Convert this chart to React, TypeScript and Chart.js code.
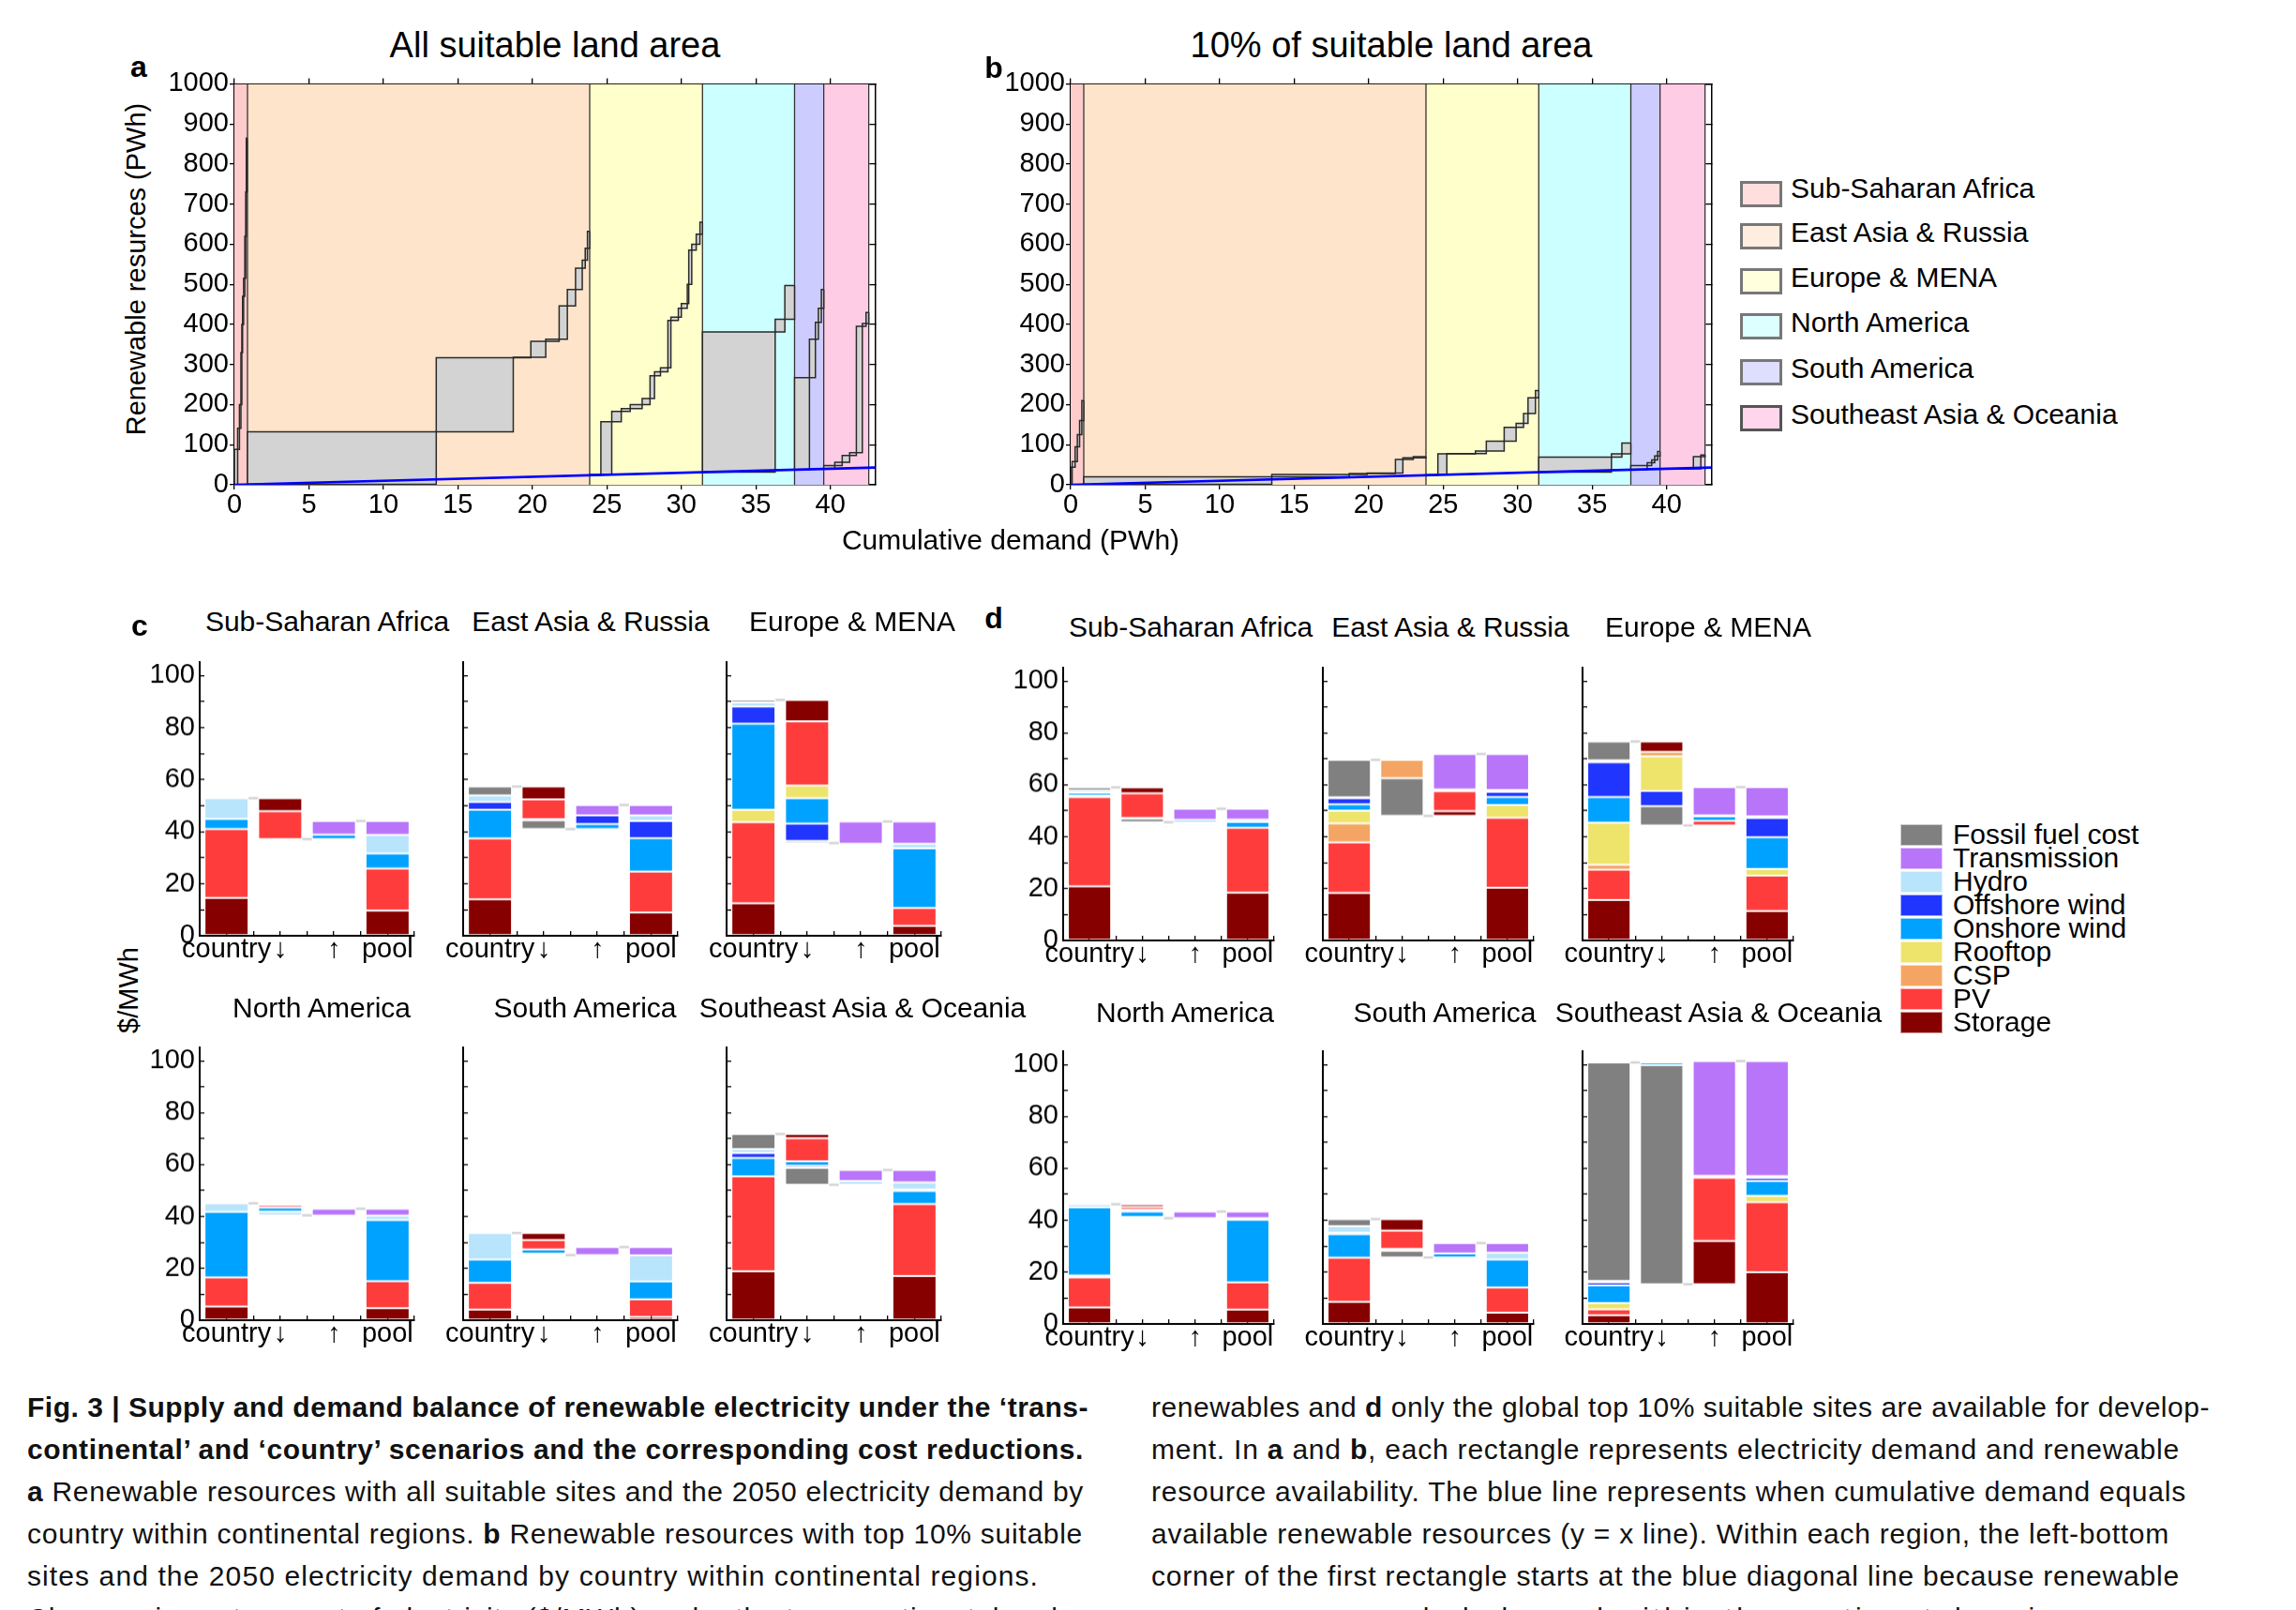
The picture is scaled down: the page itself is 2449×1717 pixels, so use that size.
import React, { useEffect, useLayoutEffect, useRef } from 'react';
import { Chart, registerables } from 'chart.js';

Chart.register(...registerables);

const FONT = '"Liberation Sans", Arial, Helvetica, sans-serif';
Chart.defaults.font.family = FONT;

/* ============ panels a & b : renewable resources vs cumulative demand ============ */
const REGIONS = ['Sub-Saharan Africa', 'East Asia & Russia', 'Europe & MENA', 'North America', 'South America', 'Southeast Asia & Oceania'];
const REGION_FILL = ['#ffcccc', '#fde4ca', '#ffffcc', '#ccffff', '#ccccff', '#ffcce6'];
const REGION_LEGEND_FILL = ['#ffdede', '#ffeedf', '#ffffde', '#deffff', '#dedeff', '#ffd6eb'];
const REGION_EDGES = [0, 0.88, 23.85, 31.42, 37.6, 39.56, 42.58]; // cumulative demand (PWh)
const AB_X_MAX = 43;
const AB_Y_MAX = 1000;

// cumulative [demand PWh, renewable resources PWh] corner points, per region — all suitable land
const A_SSA = [[0, 0], [0.22, 88], [0.34, 141], [0.44, 200], [0.5, 330], [0.55, 400], [0.62, 470], [0.7, 515], [0.76, 620], [0.8, 730], [0.86, 865]];
const A_EAR = [[0.88, 0.88], [13.55, 132], [18.72, 317], [19.9, 318], [20.9, 358], [21.8, 363], [22.35, 446], [22.9, 487], [23.35, 540], [23.55, 560], [23.7, 590], [23.85, 632]];
const A_EUM = [[23.85, 23.85], [24.6, 26], [25.33, 157], [25.97, 183], [26.57, 190], [27.37, 200], [27.9, 215], [28.2, 272], [28.6, 282], [29.1, 292], [29.3, 410], [29.8, 418], [30.0, 440], [30.4, 452], [30.5, 500], [30.7, 585], [31.0, 600], [31.25, 625], [31.42, 655]];
const A_NA = [[31.42, 31.42], [36.3, 381], [36.95, 413], [37.6, 497]];
const A_SA = [[37.6, 37.6], [38.6, 267], [39.0, 363], [39.2, 405], [39.4, 440], [39.56, 487]];
const A_SEA = [[39.56, 39.56], [40.3, 48], [40.8, 56], [41.3, 73], [41.75, 80], [42.15, 395], [42.4, 402], [42.58, 430]];

// top 10% suitable land
const B_SSA = [[0, 0], [0.1, 44], [0.3, 58], [0.45, 95], [0.6, 125], [0.75, 160], [0.88, 210]];
const B_EAR = [[0.88, 0.88], [13.5, 20], [18.7, 26], [19.9, 28], [21.8, 29], [22.3, 63], [23.0, 67], [23.85, 70]];
const B_EUM = [[23.85, 23.85], [24.65, 25], [25.25, 77], [27.17, 78], [27.9, 84], [29.1, 109], [29.9, 143], [30.4, 153], [30.7, 178], [31.2, 217], [31.42, 235]];
const B_NA = [[31.42, 31.42], [36.3, 69], [37.0, 77], [37.6, 104]];
const B_SA = [[37.6, 37.6], [38.7, 48], [39.0, 55], [39.2, 62], [39.4, 72], [39.56, 83]];
const B_SEA = [[39.56, 39.56], [41.8, 40], [42.3, 70], [42.58, 74]];

/* ============ panels c & d : cost of electricity ($/MWh) ============ */
const ST = 0, PV = 1, CSP = 2, RT = 3, ON = 4, OF = 5, HY = 6, TR = 7, FF = 8;
const COMP_NAMES = ['Storage', 'PV', 'CSP', 'Rooftop', 'Onshore wind', 'Offshore wind', 'Hydro', 'Transmission', 'Fossil fuel cost'];
const COMP_COLORS = ['#870000', '#ff3c3c', '#f4a563', '#eee46c', '#00a2ff', '#2036ff', '#b8e4fc', '#b875fa', '#808080'];
const BAR_LABELS = ['country', '↓', '↑', 'pool'];

type Seg = [number, number, number]; // [component, from, to]

// c: transcontinental scenario, all suitable sites — bars: country, decrease, increase, pool
const C_SSA: Seg[][] = [
  [[ST, 0, 14.5], [PV, 14.5, 41], [ON, 41, 44.9], [HY, 44.9, 52.8]],
  [[PV, 37.1, 47.9], [ST, 47.9, 52.8]],
  [[ON, 37.1, 38.8], [TR, 38.8, 44.1]],
  [[ST, 0, 9.6], [PV, 9.6, 25.8], [ON, 25.8, 31.6], [HY, 31.6, 38.7], [TR, 38.7, 44.1]],
];
const C_EAR: Seg[][] = [
  [[ST, 0, 14], [PV, 14, 37.4], [ON, 37.4, 48.4], [OF, 48.4, 51.4], [HY, 51.4, 53.9], [FF, 53.9, 57.3]],
  [[FF, 41, 44.3], [HY, 44.3, 44.8], [PV, 44.8, 52.4], [ST, 52.4, 57.3]],
  [[ON, 41, 42.9], [OF, 42.9, 46.2], [TR, 46.2, 50.2]],
  [[ST, 0, 8.9], [PV, 8.9, 24.6], [ON, 24.6, 37.5], [OF, 37.5, 44.1], [HY, 44.1, 46.2], [TR, 46.2, 50.2]],
];
const C_EUM: Seg[][] = [
  [[ST, 0, 12.4], [PV, 12.4, 43.6], [RT, 43.6, 48.4], [ON, 48.4, 81.5], [OF, 81.5, 88.1], [HY, 88.1, 89.6], [FF, 89.6, 90.6]],
  [[FF, 35.6, 36.4], [OF, 36.4, 43.1], [ON, 43.1, 52.8], [RT, 52.8, 57.7], [PV, 57.7, 82.4], [ST, 82.4, 90.6]],
  [[TR, 35.3, 43.9]],
  [[ST, 0, 3.8], [PV, 3.8, 10.6], [ON, 10.6, 33.6], [HY, 33.6, 35.3], [TR, 35.3, 43.9]],
];
const C_NA: Seg[][] = [
  [[ST, 0, 5.2], [PV, 5.2, 16.5], [ON, 16.5, 41.8], [HY, 41.8, 45]],
  [[HY, 40.4, 41.9], [ON, 41.9, 43.4], [PV, 43.4, 44.4], [ST, 44.4, 45]],
  [[TR, 40.3, 42.9]],
  [[ST, 0, 4.6], [PV, 4.6, 15], [ON, 15, 38.6], [HY, 38.6, 40.3], [TR, 40.3, 42.9]],
];
const C_SA: Seg[][] = [
  [[ST, 0, 4], [PV, 4, 14.4], [ON, 14.4, 23.4], [HY, 23.4, 33.6]],
  [[HY, 25.1, 25.6], [ON, 25.6, 27.3], [PV, 27.3, 30.9], [ST, 30.9, 33.6]],
  [[TR, 25.1, 28.2]],
  [[ST, 0, 1.2], [PV, 1.2, 8], [ON, 8, 14.9], [HY, 14.9, 25], [TR, 25, 28.2]],
];
const C_SEA: Seg[][] = [
  [[ST, 0, 18.8], [PV, 18.8, 55.5], [ON, 55.5, 62.5], [OF, 62.5, 64.4], [HY, 64.4, 66], [FF, 66, 71.8]],
  [[FF, 52.2, 58.7], [OF, 58.7, 59.5], [ON, 59.5, 61.3], [PV, 61.3, 70.1], [ST, 70.1, 71.8]],
  [[HY, 52.2, 53.6], [TR, 53.6, 57.9]],
  [[ST, 0, 17], [PV, 17, 44.8], [ON, 44.8, 49.8], [OF, 49.8, 50.4], [HY, 50.4, 53.1], [TR, 53.1, 57.9]],
];

// d: top 10% suitable sites
const D_SSA: Seg[][] = [
  [[ST, 0, 20.8], [PV, 20.8, 55.3], [CSP, 55.3, 55.8], [ON, 55.8, 56.9], [HY, 56.9, 57.8], [FF, 57.8, 59]],
  [[FF, 45.6, 46.9], [CSP, 46.9, 47.2], [PV, 47.2, 56.7], [ST, 56.7, 59]],
  [[ON, 45.6, 46.5], [TR, 46.5, 50.7]],
  [[ST, 0, 18.4], [PV, 18.4, 43.4], [ON, 43.4, 45.7], [HY, 45.7, 46.6], [TR, 46.6, 50.7]],
];
const D_EAR: Seg[][] = [
  [[ST, 0, 18.3], [PV, 18.3, 37.8], [CSP, 37.8, 45.1], [RT, 45.1, 50], [ON, 50, 52.5], [OF, 52.5, 54.8], [HY, 54.8, 55.2], [FF, 55.2, 69.6]],
  [[FF, 48, 62.5], [CSP, 62.5, 69.6]],
  [[ST, 48, 49.8], [PV, 49.8, 57.5], [ON, 57.5, 58.2], [TR, 58.2, 71.9]],
  [[ST, 0, 20.3], [PV, 20.3, 47.3], [RT, 47.3, 52.2], [ON, 52.2, 55.3], [OF, 55.3, 57.3], [HY, 57.3, 58], [TR, 58, 71.9]],
];
const D_EUM: Seg[][] = [
  [[ST, 0, 15.6], [PV, 15.6, 27.3], [CSP, 27.3, 29.2], [RT, 29.2, 45.4], [ON, 45.4, 55.3], [OF, 55.3, 68.7], [HY, 68.7, 69.4], [FF, 69.4, 76.7]],
  [[FF, 44.3, 51.7], [OF, 51.7, 57.6], [RT, 57.6, 71], [CSP, 71, 72.7], [ST, 72.7, 76.7]],
  [[PV, 44.3, 46.1], [ON, 46.1, 47.8], [HY, 47.8, 48.2], [TR, 48.2, 59.1]],
  [[ST, 0, 11.3], [PV, 11.3, 25], [RT, 25, 27.5], [ON, 27.5, 39.8], [OF, 39.8, 47.2], [HY, 47.2, 47.8], [TR, 47.8, 59.1]],
];
const D_NA: Seg[][] = [
  [[ST, 0, 6.3], [PV, 6.3, 17.9], [RT, 17.9, 18.6], [ON, 18.6, 44.9], [HY, 44.9, 46.1]],
  [[OF, 40.8, 41.2], [ON, 41.2, 43.3], [RT, 43.3, 44], [PV, 44, 45.1], [ST, 45.1, 46.1]],
  [[TR, 40.8, 43.3]],
  [[ST, 0, 5.5], [PV, 5.5, 16], [ON, 16, 40.1], [HY, 40.1, 40.8], [TR, 40.8, 43.3]],
];
const D_SA: Seg[][] = [
  [[ST, 0, 8.5], [PV, 8.5, 25.5], [ON, 25.5, 34.6], [OF, 34.6, 35.1], [HY, 35.1, 37.7], [FF, 37.7, 40.4]],
  [[FF, 25.6, 28.2], [OF, 28.2, 28.9], [PV, 28.9, 36], [ST, 36, 40.4]],
  [[ON, 25.6, 27.2], [TR, 27.2, 31.2]],
  [[ST, 0, 4.3], [PV, 4.3, 14], [ON, 14, 24.8], [HY, 24.8, 27.4], [TR, 27.4, 31.2]],
];
const D_SEA: Seg[][] = [
  [[ST, 0, 3.3], [PV, 3.3, 5.6], [RT, 5.6, 8], [ON, 8, 14.8], [OF, 14.8, 16], [HY, 16, 16.6], [FF, 16.6, 100.8]],
  [[FF, 15.3, 99.8], [ON, 99.8, 100.8]],
  [[ST, 15.3, 32], [PV, 32, 56.4], [RT, 56.4, 57.1], [TR, 57.1, 101.3]],
  [[ST, 0, 19.9], [PV, 19.9, 46.9], [RT, 46.9, 49.4], [ON, 49.4, 55.1], [OF, 55.1, 56.3], [HY, 56.3, 57], [TR, 57, 101.3]],
];

const BAR_Y_MAX = 105;
const X_STEP = 0.5;     // tick spacing on the bar index axis
const BAR_W = 0.82;     // bar width in index units

/* ============ layout ============ */
const AB_GEOM = { top: 89, bottom: 517, unit: 15.89 };
const A_LEFT = 250;
const B_LEFT = 1142;

const TICK_FONT = { family: FONT, size: 29 };

function StepPanel({ plotLeft, regions }: { plotLeft: number; regions: number[][][] }) {
  const ref = useRef<HTMLCanvasElement>(null);
  const yW = 75, xH = 45, topH = 18, rightW = 12;
  const plotW = AB_X_MAX * AB_GEOM.unit;
  const left = plotLeft - yW;
  const top = AB_GEOM.top - topH;
  const width = yW + plotW + rightW;
  const height = topH + (AB_GEOM.bottom - AB_GEOM.top) + xH;

  useEffect(() => {
    const datasets: any[] = [];
    REGIONS.forEach((_, i) => {
      datasets.push({
        type: 'line',
        data: [{ x: REGION_EDGES[i], y: AB_Y_MAX }, { x: REGION_EDGES[i + 1], y: AB_Y_MAX }],
        fill: 'origin', backgroundColor: REGION_FILL[i], borderWidth: 0, pointRadius: 0, order: 30,
      });
    });
    const edgePts: any[] = [];
    REGION_EDGES.slice(1).forEach((e) => {
      edgePts.push({ x: e, y: 0 }, { x: e, y: AB_Y_MAX }, { x: e, y: null });
    });
    datasets.push({ type: 'line', data: edgePts, borderColor: '#333', borderWidth: 1.3, pointRadius: 0, fill: false, spanGaps: false, order: 20 });
    regions.forEach((pts) => {
      const d = pts.map(([x, y]) => ({ x, y }));
      datasets.push({ type: 'line', data: d, stepped: 'after', borderColor: '#2a2a2a', borderWidth: 1.5, pointRadius: 0, fill: false, order: 10 });
      datasets.push({ type: 'line', data: d, stepped: 'before', borderColor: '#2a2a2a', borderWidth: 1.5, pointRadius: 0, fill: '-1', backgroundColor: '#d3d3d3', order: 10 });
    });
    datasets.push({ type: 'line', data: [{ x: 0, y: 0 }, { x: AB_X_MAX, y: AB_X_MAX }], borderColor: '#0000ff', borderWidth: 2.6, pointRadius: 0, fill: false, order: 0 });

    const axisCommon = { color: '#000', width: 1.5 };
    const chart = new Chart(ref.current!, {
      type: 'line',
      data: { datasets },
      options: {
        animation: false,
        responsive: true,
        maintainAspectRatio: false,
        events: [],
        layout: { padding: 0 },
        plugins: { legend: { display: false }, tooltip: { enabled: false }, title: { display: false } },
        scales: {
          x: {
            type: 'linear', position: 'bottom', min: 0, max: AB_X_MAX,
            ticks: { stepSize: 5, includeBounds: false, autoSkip: false, maxRotation: 0, padding: 0, font: TICK_FONT, color: '#000', callback: (v: any) => String(v) },
            grid: { drawOnChartArea: false, tickLength: 5, color: '#000', lineWidth: 1.3 },
            border: axisCommon,
            afterFit: (s: any) => { s.height = xH; },
          },
          xTop: {
            type: 'linear', position: 'top', min: 0, max: AB_X_MAX,
            ticks: { display: false, stepSize: 5, includeBounds: false },
            grid: { drawOnChartArea: false, tickLength: 6, color: '#000', lineWidth: 1.3 },
            border: axisCommon,
            afterFit: (s: any) => { s.height = topH; },
          },
          y: {
            type: 'linear', position: 'left', min: 0, max: AB_Y_MAX,
            ticks: { stepSize: 100, autoSkip: false, padding: 1, font: TICK_FONT, color: '#000', callback: (v: any) => String(v) },
            grid: { drawOnChartArea: false, tickLength: 5, color: '#000', lineWidth: 1.3 },
            border: axisCommon,
            afterFit: (s: any) => { s.width = yW; },
          },
          yRight: {
            type: 'linear', position: 'right', min: 0, max: AB_Y_MAX,
            ticks: { display: false, stepSize: 100 },
            grid: { drawOnChartArea: false, tickLength: -6, color: '#000', lineWidth: 1.3 },
            border: axisCommon,
            afterFit: (s: any) => { s.width = rightW; },
          },
        },
      } as any,
    });
    return () => chart.destroy();
  }, []);

  return (
    <div style={{ position: 'absolute', left, top, width, height }}>
      <canvas ref={ref} />
    </div>
  );
}

function BarPanel({ bars, axisX, plotW, y100, y0, showY }: { bars: Seg[][]; axisX: number; plotW: number; y100: number; y0: number; showY: boolean }) {
  const ref = useRef<HTMLCanvasElement>(null);
  const p = (y0 - y100) / 100;
  const yW = 60, xH = 40, padT = 4, padR = 4;
  const plotH = BAR_Y_MAX * p;
  const left = axisX - yW;
  const top = y0 - plotH - padT;
  const width = yW + plotW + padR;
  const height = padT + plotH + xH;

  useEffect(() => {
    const byComp = new Map<number, any[]>();
    bars.forEach((segs, i) => {
      segs.forEach(([c, lo, hi]) => {
        if (!byComp.has(c)) byComp.set(c, []);
        byComp.get(c)!.push({ x: i, y: [lo, hi] });
      });
    });
    const datasets: any[] = [];
    Array.from(byComp.keys()).sort((a, b) => a - b).forEach((c) => {
      datasets.push({
        type: 'bar', label: COMP_NAMES[c], data: byComp.get(c),
        backgroundColor: COMP_COLORS[c], borderColor: 'rgba(255,255,255,0.35)', borderWidth: 1,
        borderSkipped: false, grouped: false,
        barPercentage: BAR_W / X_STEP, categoryPercentage: 1, order: 2,
      });
    });
    // waterfall connectors: country top -> decrease top, decrease bottom -> increase bottom, increase top -> pool top
    const lows = bars.map((s) => Math.min(...s.map((t) => t[1])));
    const highs = bars.map((s) => Math.max(...s.map((t) => t[2])));
    const levels = [highs[0], lows[1], highs[2]];
    const conn: any[] = [];
    levels.forEach((v, i) => {
      conn.push({ x: i + BAR_W / 2, y: v }, { x: i + 1 - BAR_W / 2, y: v }, { x: i + 1, y: null });
    });
    datasets.push({ type: 'line', data: conn, borderColor: '#d4d4d4', borderWidth: 2.5, pointRadius: 0, fill: false, spanGaps: false, order: 0 });

    const chart = new Chart(ref.current!, {
      type: 'bar',
      data: { datasets },
      options: {
        animation: false,
        responsive: true,
        maintainAspectRatio: false,
        events: [],
        layout: { padding: { top: padT, right: padR, left: 0, bottom: 0 } },
        plugins: { legend: { display: false }, tooltip: { enabled: false } },
        scales: {
          x: {
            type: 'linear', min: -0.5, max: 3.5, offset: false,
            grid: { offset: false, drawOnChartArea: false, tickLength: -5, color: '#000', lineWidth: 1.3 },
            border: { color: '#000', width: 2 },
            ticks: {
              stepSize: X_STEP, autoSkip: false, maxRotation: 0, minRotation: 0, includeBounds: false, padding: 3,
              font: TICK_FONT, color: '#000',
              callback: (v: any) => (Number.isInteger(v) ? BAR_LABELS[v] : ''),
            },
            afterFit: (s: any) => { s.height = xH; },
          },
          y: {
            type: 'linear', min: 0, max: BAR_Y_MAX,
            grid: { drawOnChartArea: false, tickLength: -5, color: '#000', lineWidth: 1.3 },
            border: { color: '#000', width: 2 },
            ticks: {
              stepSize: 10, autoSkip: false, includeBounds: false, padding: 10, font: TICK_FONT, color: '#000',
              callback: (v: any) => (showY && Math.round(v) % 20 === 0 ? String(Math.round(v)) : ''),
            },
            afterFit: (s: any) => { s.width = yW; },
          },
        },
      } as any,
    });
    return () => chart.destroy();
  }, []);

  return (
    <div style={{ position: 'absolute', left, top, width, height }}>
      <canvas ref={ref} />
    </div>
  );
}

function Txt({ x, y, size, bold, rotate, anchor = 'center', children }: any) {
  const tr = anchor === 'center' ? 'translate(-50%,-50%)' : 'translate(0,-50%)';
  return (
    <div style={{
      position: 'absolute', left: x, top: y, fontSize: size, fontWeight: bold ? 'bold' : 'normal',
      lineHeight: 1, whiteSpace: 'nowrap', transform: rotate ? `${tr} rotate(${rotate}deg)` : tr,
      fontFamily: FONT, color: '#000',
    }}>{children}</div>
  );
}

function CaptionLine({ x, y, target, children }: any) {
  const ref = useRef<HTMLDivElement>(null);
  useLayoutEffect(() => {
    const el = ref.current;
    if (!el || !target) return;
    const fit = () => {
      el.style.letterSpacing = '0px';
      const w = el.getBoundingClientRect().width;
      const n = (el.textContent || '').length;
      if (n > 1) el.style.letterSpacing = `${(target - w) / n}px`;
    };
    fit();
    if ((document as any).fonts && (document as any).fonts.ready) (document as any).fonts.ready.then(fit);
  }, []);
  return (
    <div ref={ref} style={{
      position: 'absolute', left: x, top: y, transform: 'translate(0,-50%)', fontSize: 30, lineHeight: 1,
      whiteSpace: 'nowrap', fontFamily: FONT, color: '#111',
    }}>{children}</div>
  );
}

const C_COLS = [213, 494, 775];
const D_COLS = [1134, 1411, 1688];
const C_W = 229;
const D_W = 225;
const ROWS = { cTop: [698, 997], cBot: [1109, 1407], dTop: [704, 1002], dBot: [1113, 1411] };

export default function App() {
  const topTitles = ['Sub-Saharan Africa', 'East Asia & Russia', 'Europe & MENA'];
  const botTitles = ['North America', 'South America', 'Southeast Asia & Oceania'];
  const topOff = [136, 136, 134];
  const botOff = [130, 130, 145];
  const capY = [1501, 1545.5, 1591, 1636, 1681, 1726];
  return (
    <div style={{ position: 'absolute', left: 0, top: 0, width: 2449, height: 1717, overflow: 'hidden', background: '#fff' }}>
      {/* a & b */}
      <StepPanel plotLeft={A_LEFT} regions={[A_SSA, A_EAR, A_EUM, A_NA, A_SA, A_SEA]} />
      <StepPanel plotLeft={B_LEFT} regions={[B_SSA, B_EAR, B_EUM, B_NA, B_SA, B_SEA]} />
      <Txt x={592} y={48} size={38}>All suitable land area</Txt>
      <Txt x={1484} y={48} size={38}>10% of suitable land area</Txt>
      <Txt x={148} y={71} size={32} bold>a</Txt>
      <Txt x={1060} y={72} size={32} bold>b</Txt>
      <Txt x={145} y={287} size={29} rotate={-90}>Renewable resurces (PWh)</Txt>
      <Txt x={1078} y={576} size={30}>Cumulative demand (PWh)</Txt>

      {REGIONS.map((r, i) => {
        const sy = [207, 252, 300, 348, 397, 446][i];
        const ty = [201, 248, 296, 344, 393, 442][i];
        return (
          <React.Fragment key={r}>
            <div style={{ position: 'absolute', left: 1856, top: sy - 14, width: 45, height: 28, boxSizing: 'border-box', border: `3px solid ${i === 5 ? '#555' : '#777'}`, background: REGION_LEGEND_FILL[i] }} />
            <Txt x={1910} y={ty} size={30} anchor="left">{r}</Txt>
          </React.Fragment>
        );
      })}

      {/* c & d */}
      {[C_SSA, C_EAR, C_EUM].map((b, i) => (
        <BarPanel key={'ct' + i} bars={b} axisX={C_COLS[i]} plotW={C_W} y100={ROWS.cTop[0]} y0={ROWS.cTop[1]} showY={i === 0} />
      ))}
      {[C_NA, C_SA, C_SEA].map((b, i) => (
        <BarPanel key={'cb' + i} bars={b} axisX={C_COLS[i]} plotW={C_W} y100={ROWS.cBot[0]} y0={ROWS.cBot[1]} showY={i === 0} />
      ))}
      {[D_SSA, D_EAR, D_EUM].map((b, i) => (
        <BarPanel key={'dt' + i} bars={b} axisX={D_COLS[i]} plotW={D_W} y100={ROWS.dTop[0]} y0={ROWS.dTop[1]} showY={i === 0} />
      ))}
      {[D_NA, D_SA, D_SEA].map((b, i) => (
        <BarPanel key={'db' + i} bars={b} axisX={D_COLS[i]} plotW={D_W} y100={ROWS.dBot[0]} y0={ROWS.dBot[1]} showY={i === 0} />
      ))}
      {topTitles.map((t, i) => (
        <React.Fragment key={'tt' + i}>
          <Txt x={C_COLS[i] + topOff[i]} y={663} size={30}>{t}</Txt>
          <Txt x={D_COLS[i] + topOff[i]} y={669} size={30}>{t}</Txt>
        </React.Fragment>
      ))}
      {botTitles.map((t, i) => (
        <React.Fragment key={'bt' + i}>
          <Txt x={C_COLS[i] + botOff[i]} y={1075} size={30}>{t}</Txt>
          <Txt x={D_COLS[i] + botOff[i]} y={1080} size={30}>{t}</Txt>
        </React.Fragment>
      ))}
      <Txt x={149} y={667} size={32} bold>c</Txt>
      <Txt x={1060} y={659} size={32} bold>d</Txt>
      <Txt x={137} y={1056} size={29} rotate={-90}>$/MWh</Txt>

      {COMP_NAMES.slice().reverse().map((n, k) => {
        const c = COMP_NAMES.length - 1 - k;
        return (
          <React.Fragment key={n}>
            <div style={{ position: 'absolute', left: 2027, top: 879 + 25 * k, width: 45, height: 23, boxSizing: 'border-box', border: '1px solid rgba(255,255,255,0.6)', background: COMP_COLORS[c] }} />
            <Txt x={2083} y={890 + 25 * k} size={30} anchor="left">{n}</Txt>
          </React.Fragment>
        );
      })}

      {/* caption */}
      <CaptionLine x={29} y={capY[0]} target={1132}><b>Fig. 3 | Supply and demand balance of renewable electricity under the ‘trans-</b></CaptionLine>
      <CaptionLine x={29} y={capY[1]} target={1127}><b>continental’ and ‘country’ scenarios and the corresponding cost reductions.</b></CaptionLine>
      <CaptionLine x={29} y={capY[2]} target={1127}><b>a</b> Renewable resources with all suitable sites and the 2050 electricity demand by</CaptionLine>
      <CaptionLine x={29} y={capY[3]} target={1126}>country within continental regions. <b>b</b> Renewable resources with top 10% suitable</CaptionLine>
      <CaptionLine x={29} y={capY[4]} target={1079}>sites and the 2050 electricity demand by country within continental regions.</CaptionLine>
      <CaptionLine x={29} y={capY[5]} target={1100}>Changes in system cost of electricity ($/MWh) under the transcontinental and</CaptionLine>
      <CaptionLine x={1228} y={capY[0]} target={1129}>renewables and <b>d</b> only the global top 10% suitable sites are available for develop-</CaptionLine>
      <CaptionLine x={1228} y={capY[1]} target={1097}>ment. In <b>a</b> and <b>b</b>, each rectangle represents electricity demand and renewable</CaptionLine>
      <CaptionLine x={1228} y={capY[2]} target={1104}>resource availability. The blue line represents when cumulative demand equals</CaptionLine>
      <CaptionLine x={1228} y={capY[3]} target={1086}>available renewable resources (y = x line). Within each region, the left-bottom</CaptionLine>
      <CaptionLine x={1228} y={capY[4]} target={1097}>corner of the first rectangle starts at the blue diagonal line because renewable</CaptionLine>
      <CaptionLine x={1228} y={capY[5]} target={1000}>resources are only balanced within the continental region.</CaptionLine>
    </div>
  );
}
